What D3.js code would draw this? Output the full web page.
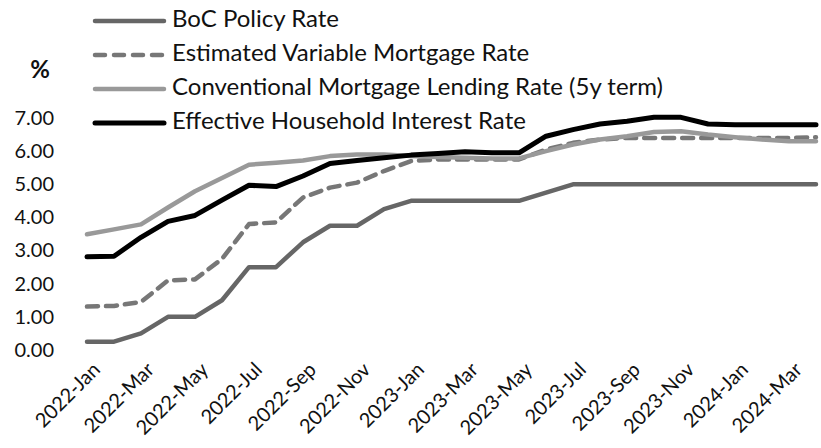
<!DOCTYPE html>
<html>
<head>
<meta charset="utf-8">
<script src="https://cdn.jsdelivr.net/npm/d3@7"></script>
<style>
  html, body { margin: 0; padding: 0; background: #fff; }
  svg { display: block; }
  text { font-family: Lato, "Open Sans", sans-serif; fill: #111; }
</style>
</head>
<body>
<svg id="chart" width="821" height="448"></svg>
<script>
// Monthly observations, Jan 2022 – Apr 2024
const months = [
  "2022-Jan","2022-Feb","2022-Mar","2022-Apr","2022-May","2022-Jun","2022-Jul","2022-Aug","2022-Sep","2022-Oct","2022-Nov","2022-Dec",
  "2023-Jan","2023-Feb","2023-Mar","2023-Apr","2023-May","2023-Jun","2023-Jul","2023-Aug","2023-Sep","2023-Oct","2023-Nov","2023-Dec",
  "2024-Jan","2024-Feb","2024-Mar","2024-Apr"
];

const bocPolicyRate = [
  0.25,0.25,0.50,1.00,1.00,1.50,2.50,2.50,3.25,3.75,3.75,4.25,
  4.50,4.50,4.50,4.50,4.50,4.75,5.00,5.00,5.00,5.00,5.00,5.00,
  5.00,5.00,5.00,5.00
];

const variableMortgageRate = [
  1.31,1.33,1.45,2.10,2.13,2.75,3.80,3.85,4.60,4.90,5.05,5.40,
  5.70,5.75,5.75,5.75,5.75,6.05,6.25,6.35,6.40,6.40,6.40,6.40,
  6.40,6.40,6.40,6.42
];

const conventionalMortgageRate = [
  3.49,3.64,3.79,4.30,4.79,5.19,5.59,5.65,5.72,5.85,5.90,5.90,
  5.85,5.82,5.80,5.78,5.78,6.00,6.20,6.35,6.45,6.58,6.60,6.50,
  6.42,6.35,6.30,6.30
];

const effectiveHouseholdRate = [
  2.81,2.83,3.40,3.88,4.06,4.52,4.97,4.93,5.25,5.63,5.72,5.80,
  5.88,5.93,5.98,5.95,5.95,6.45,6.65,6.82,6.90,7.02,7.02,6.82,
  6.80,6.80,6.80,6.80
];

const yTicks = [0,1,2,3,4,5,6,7];
const xTickLabels = months.filter((m, i) => i % 2 === 0);

const seriesList = [
  { name: "BoC Policy Rate", values: bocPolicyRate, color: "#666666", width: 4.5, dash: null },
  { name: "Estimated Variable Mortgage Rate", values: variableMortgageRate, color: "#777777", width: 4.5, dash: "11,8" },
  { name: "Conventional Mortgage Lending Rate (5y term)", values: conventionalMortgageRate, color: "#999999", width: 4.5, dash: null },
  { name: "Effective Household Interest Rate", values: effectiveHouseholdRate, color: "#000000", width: 5, dash: null }
];

const svg = d3.select("#chart");

const x = d3.scalePoint().domain(months).range([87, 816]);
const y = d3.scaleLinear().domain([0, 7]).range([350, 118]);

// Y axis labels
const yAxis = svg.append("g")
  .attr("transform", "translate(54,0)")
  .call(d3.axisLeft(y).tickValues(yTicks).tickFormat(d3.format(".2f")).tickSize(0).tickPadding(0));
yAxis.select(".domain").remove();
yAxis.selectAll("text").style("font-size", "20px").style("font-family", "Lato, sans-serif").attr("fill", "#111");

// Unit label
svg.append("text")
  .attr("x", 40).attr("y", 72)
  .attr("text-anchor", "middle").attr("dominant-baseline", "middle")
  .style("font-size", "24px").style("font-weight", "700")
  .text("%");

// X axis labels, rotated
const xAxis = svg.append("g")
  .attr("transform", "translate(0,356)")
  .call(d3.axisBottom(x).tickValues(xTickLabels).tickSize(0).tickPadding(0));
xAxis.select(".domain").remove();
xAxis.selectAll("text")
  .style("font-size", "20px").style("font-family", "Lato, sans-serif").attr("fill", "#111")
  .attr("text-anchor", "end")
  .attr("dy", "0.35em")
  .attr("transform", "translate(9,10) rotate(-45)");

// Lines
const line = d3.line()
  .x((d, i) => x(months[i]))
  .y(d => y(d));

seriesList.forEach(s => {
  svg.append("path")
    .datum(s.values)
    .attr("fill", "none")
    .attr("stroke", s.color)
    .attr("stroke-width", s.width)
    .attr("stroke-linejoin", "round")
    .attr("stroke-linecap", "round")
    .attr("stroke-dasharray", s.dash)
    .attr("d", line);
});

// Legend
const legend = svg.append("g");
const rowY = [21, 55, 89, 123];
seriesList.forEach((s, i) => {
  const g = legend.append("g").attr("transform", `translate(0,${rowY[i]})`);
  g.append("line")
    .attr("x1", 95).attr("x2", 164).attr("y1", 0).attr("y2", 0)
    .attr("stroke", s.color)
    .attr("stroke-width", s.width)
    .attr("stroke-linecap", "round")
    .attr("stroke-dasharray", s.dash ? "10,9" : null);
  g.append("text")
    .attr("x", 172).attr("y", 0)
    .attr("dominant-baseline", "middle")
    .style("font-size", "24px")
    .text(s.name);
});
</script>
</body>
</html>
